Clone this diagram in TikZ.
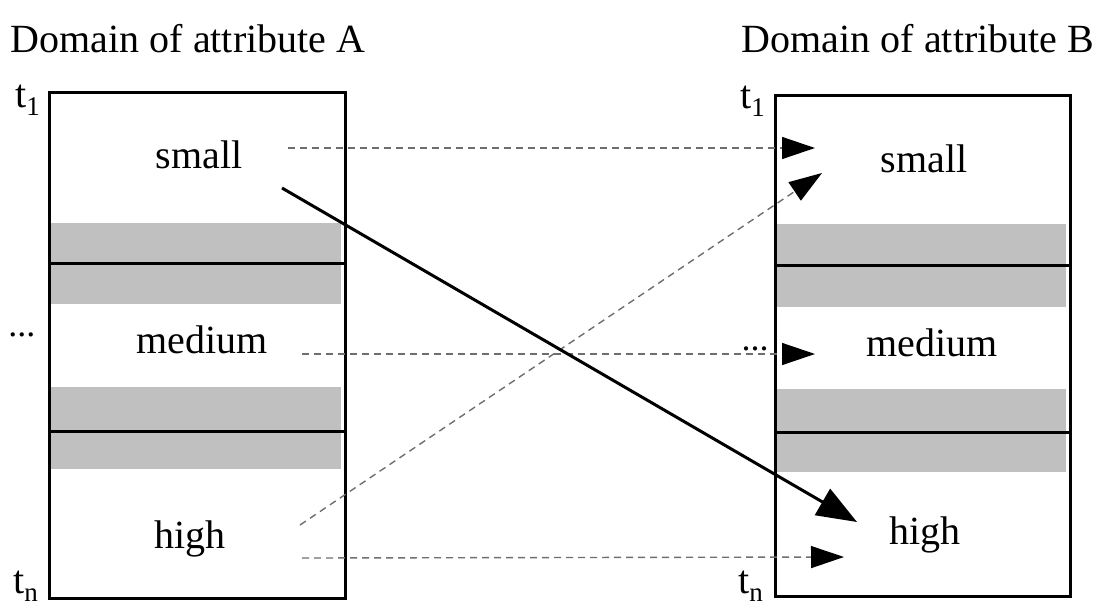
\documentclass[tikz,border=0pt]{standalone}
\usepackage{fontspec}
\setmainfont{Liberation Serif}
\usetikzlibrary{arrows.meta}
\definecolor{bandgray}{HTML}{C0C0C0}
\definecolor{dashgray}{HTML}{6E6E6E}
\newcommand{\tsub}[1]{t\raisebox{-0.22em}{\fontsize{27}{27}\selectfont #1}}
\begin{document}
\begin{tikzpicture}[x=1pt,y=-1pt,
  lbl/.style={font=\fontsize{40}{40}\selectfont, inner sep=0pt, anchor=base},
  tl/.style={font=\fontsize{40}{40}\selectfont, inner sep=0pt, anchor=base west},
  band/.style={fill=bandgray, draw=none},
  boxline/.style={line width=3pt},
  dsh/.style={draw=dashgray, line width=1.4pt, dash pattern=on 7pt off 5pt,
    -{Triangle[length=33pt,width=22pt,color=black]}},
  solidarrow/.style={line width=3pt, -{Triangle[length=40pt,width=30pt]}}
]
\useasboundingbox (0,0) rectangle (1102,600);

% titles
\node[lbl] (titleA) at (188,52) {Domain of attribute A};
\node[lbl] (titleB) at (918,52) {Domain of attribute B};

% gray bands
\fill[band] (49,223) rectangle (341,304);
\fill[band] (49,387) rectangle (341,469);
\fill[band] (775,224) rectangle (1066,307);
\fill[band] (775,389) rectangle (1066,472);

% boxes
\node[boxline, draw, inner sep=0pt, minimum width=296pt, minimum height=506pt] (boxA) at (197,345) {};
\node[boxline, draw, inner sep=0pt, minimum width=295pt, minimum height=501pt] (boxB) at (922.5,345.5) {};
\draw[boxline] (boxA.west |- 0,263) -- (boxA.east |- 0,263);
\draw[boxline] (boxA.west |- 0,431) -- (boxA.east |- 0,431);
\draw[boxline] (boxB.west |- 0,265) -- (boxB.east |- 0,265);
\draw[boxline] (boxB.west |- 0,432) -- (boxB.east |- 0,432);

% labels left
\node[lbl] (smallA) at (199,168) {small};
\node[lbl] (mediumA) at (202,353) {medium};
\node[lbl] (highA) at (190,548) {high};
\node[tl] (t1A) at (15,107) {\tsub{1}};
\node[tl] (tnA) at (13,593) {\tsub{n}};
\node[lbl] (dotsA) at (22,336) {\fontsize{36}{36}\selectfont ...};

% labels right
\node[lbl] (smallB) at (924,172) {small};
\node[lbl] (mediumB) at (932,356) {medium};
\node[lbl] (highB) at (925,544) {high};
\node[tl] (t1B) at (740,108) {\tsub{1}};
\node[tl] (tnB) at (738,593) {\tsub{n}};
\node[lbl] (dotsB) at (755,350) {\fontsize{36}{36}\selectfont ...};

% arrow endpoints
\coordinate (s1) at (288,148);
\coordinate (e1) at (815,148);
\coordinate (s2) at (300,525);
\coordinate (e2) at (822,173);
\coordinate (s3) at (302,354);
\coordinate (e3) at (815,354);
\coordinate (s4) at (302,558);
\coordinate (e4) at (844,557);
\coordinate (s5) at (282,188);
\coordinate (e5) at (857,522);

\draw[dsh] (s1) -- (e1);
\draw[dsh] (s2) -- (e2);
\draw[dsh] (s3) -- (e3);
\draw[dsh] (s4) -- (e4);
\draw[solidarrow] (s5) -- (e5);
\end{tikzpicture}
\end{document}
